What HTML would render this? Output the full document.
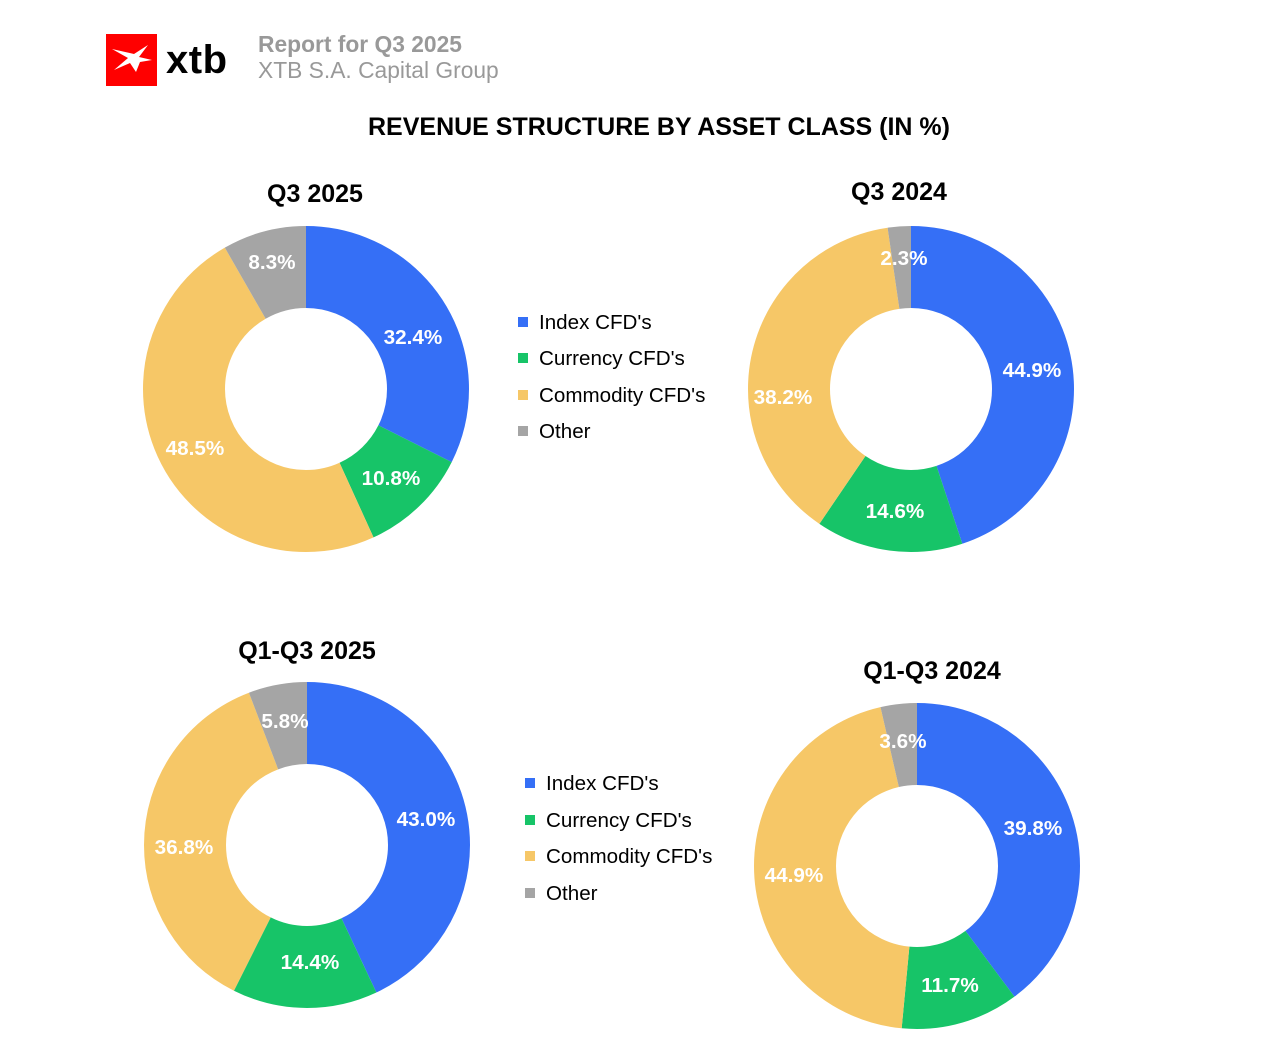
<!DOCTYPE html>
<html><head><meta charset="utf-8"><style>
html,body{margin:0;padding:0;background:#fff;width:1281px;height:1062px;overflow:hidden}
svg text{font-family:"Liberation Sans",Arial,sans-serif}
</style></head><body>
<svg width="1281" height="1062" viewBox="0 0 1281 1062" xmlns="http://www.w3.org/2000/svg">
<rect x="106" y="34" width="51" height="52" fill="#ff0000"/>
<path d="M112 49 L128 58 L114 70 L130 63 L136 72 L140 62 L152 60 L139 57 L148 45 L134 54 Z" fill="#fff"/>
<text x="166" y="73" font-size="40" font-weight="bold" fill="#000" letter-spacing="0.5">xtb</text>
<text x="258" y="52" font-size="22.8" font-weight="bold" fill="#999">Report for Q3 2025</text>
<text x="258" y="78" font-size="22.8" fill="#999">XTB S.A. Capital Group</text>
<text x="659" y="135" font-size="25" font-weight="bold" fill="#000" text-anchor="middle">REVENUE STRUCTURE BY ASSET CLASS (IN %)</text>

<g font-size="25" font-weight="bold" fill="#000" text-anchor="middle">
<text x="315" y="202">Q3 2025</text>
<text x="899" y="200">Q3 2024</text>
<text x="307" y="659">Q1-Q3 2025</text>
<text x="932" y="679">Q1-Q3 2024</text>
</g>

<g fill="none" stroke-width="82">
<g transform="rotate(-90 306 389)">
<circle cx="306" cy="389" r="122" pathLength="100" stroke="#356ff6" stroke-dasharray="32.4 100" stroke-dashoffset="0"/>
<circle cx="306" cy="389" r="122" pathLength="100" stroke="#17c468" stroke-dasharray="10.8 100" stroke-dashoffset="-32.4"/>
<circle cx="306" cy="389" r="122" pathLength="100" stroke="#f6c767" stroke-dasharray="48.5 100" stroke-dashoffset="-43.2"/>
<circle cx="306" cy="389" r="122" pathLength="100" stroke="#a5a5a5" stroke-dasharray="8.3 100" stroke-dashoffset="-91.7"/>
</g>
<g transform="rotate(-90 911 389)">
<circle cx="911" cy="389" r="122" pathLength="100" stroke="#356ff6" stroke-dasharray="44.9 100" stroke-dashoffset="0"/>
<circle cx="911" cy="389" r="122" pathLength="100" stroke="#17c468" stroke-dasharray="14.6 100" stroke-dashoffset="-44.9"/>
<circle cx="911" cy="389" r="122" pathLength="100" stroke="#f6c767" stroke-dasharray="38.2 100" stroke-dashoffset="-59.5"/>
<circle cx="911" cy="389" r="122" pathLength="100" stroke="#a5a5a5" stroke-dasharray="2.3 100" stroke-dashoffset="-97.7"/>
</g>
<g transform="rotate(-90 307 845)">
<circle cx="307" cy="845" r="122" pathLength="100" stroke="#356ff6" stroke-dasharray="43.0 100" stroke-dashoffset="0"/>
<circle cx="307" cy="845" r="122" pathLength="100" stroke="#17c468" stroke-dasharray="14.4 100" stroke-dashoffset="-43"/>
<circle cx="307" cy="845" r="122" pathLength="100" stroke="#f6c767" stroke-dasharray="36.8 100" stroke-dashoffset="-57.4"/>
<circle cx="307" cy="845" r="122" pathLength="100" stroke="#a5a5a5" stroke-dasharray="5.8 100" stroke-dashoffset="-94.2"/>
</g>
<g transform="rotate(-90 917 866)">
<circle cx="917" cy="866" r="122" pathLength="100" stroke="#356ff6" stroke-dasharray="39.8 100" stroke-dashoffset="0"/>
<circle cx="917" cy="866" r="122" pathLength="100" stroke="#17c468" stroke-dasharray="11.7 100" stroke-dashoffset="-39.8"/>
<circle cx="917" cy="866" r="122" pathLength="100" stroke="#f6c767" stroke-dasharray="44.9 100" stroke-dashoffset="-51.5"/>
<circle cx="917" cy="866" r="122" pathLength="100" stroke="#a5a5a5" stroke-dasharray="3.6 100" stroke-dashoffset="-96.4"/>
</g>
</g>

<g font-size="20.7" font-weight="bold" fill="#fff" text-anchor="middle">
<text x="272" y="269">8.3%</text>
<text x="413" y="344">32.4%</text>
<text x="391" y="485">10.8%</text>
<text x="195" y="455">48.5%</text>
<text x="904" y="265">2.3%</text>
<text x="1032" y="377">44.9%</text>
<text x="895" y="518">14.6%</text>
<text x="783" y="404">38.2%</text>
<text x="285" y="728">5.8%</text>
<text x="426" y="826">43.0%</text>
<text x="310" y="969">14.4%</text>
<text x="184" y="854">36.8%</text>
<text x="903" y="748">3.6%</text>
<text x="1033" y="835">39.8%</text>
<text x="950" y="992">11.7%</text>
<text x="794" y="882">44.9%</text>
</g>

<g font-size="20.6" fill="#000">
<rect x="518" y="317" width="10" height="10" fill="#356ff6"/><text x="539" y="329">Index CFD's</text>
<rect x="518" y="353" width="10" height="10" fill="#17c468"/><text x="539" y="365">Currency CFD's</text>
<rect x="518" y="390" width="10" height="10" fill="#f6c767"/><text x="539" y="402">Commodity CFD's</text>
<rect x="518" y="426" width="10" height="10" fill="#a5a5a5"/><text x="539" y="438">Other</text>
<rect x="525" y="778" width="10" height="10" fill="#356ff6"/><text x="546" y="790">Index CFD's</text>
<rect x="525" y="815" width="10" height="10" fill="#17c468"/><text x="546" y="827">Currency CFD's</text>
<rect x="525" y="851" width="10" height="10" fill="#f6c767"/><text x="546" y="863">Commodity CFD's</text>
<rect x="525" y="888" width="10" height="10" fill="#a5a5a5"/><text x="546" y="900">Other</text>
</g>
</svg>
</body></html>
